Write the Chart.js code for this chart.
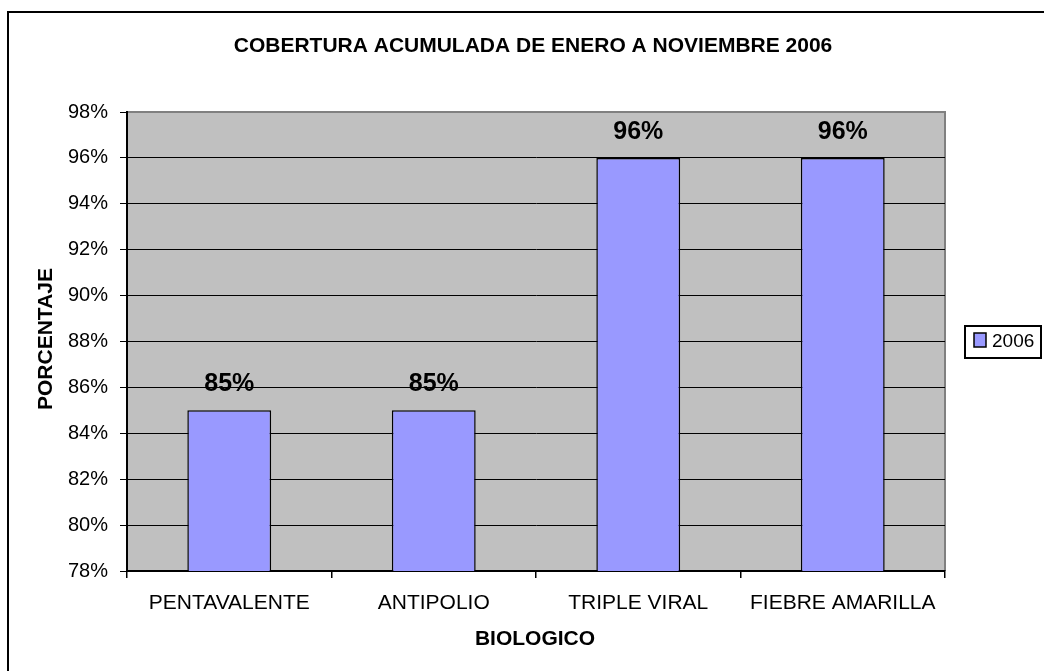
<!DOCTYPE html>
<html>
<head>
<meta charset="utf-8">
<script src="https://cdn.jsdelivr.net/npm/chart.js@4"></script>
<style>
    html, body { margin: 0; padding: 0; background: #fff; }
    #wrap { width: 1044px; height: 671px; }
</style>
</head>
<body>
<div id="wrap"><canvas id="coberturaChart" width="1044" height="671"></canvas></div>
<script>
// ============================================
// Data
// ============================================
const categories = ['PENTAVALENTE', 'ANTIPOLIO', 'TRIPLE VIRAL', 'FIEBRE AMARILLA'];
const values2006 = [85, 85, 96, 96];
const seriesLabel = '2006';
const yMin = 78;
const yMax = 98;
const yStep = 2;

const chartTitle = 'COBERTURA ACUMULADA DE ENERO A NOVIEMBRE 2006';
const yTitle = 'PORCENTAJE';
const xTitle = 'BIOLOGICO';

const FONT = '"Liberation Sans", Arial, sans-serif';
const BAR_COLOR = '#9999FF';

// ============================================
// Plugin: frame, plot background, texts, legend
// ============================================
const decorPlugin = {
    id: 'decor',
    beforeDraw(chart) {
        const ctx = chart.ctx;
        const a = chart.chartArea;
        ctx.save();
        // outer frame (right / bottom run off the picture)
        ctx.strokeStyle = '#000';
        ctx.lineWidth = 2;
        ctx.strokeRect(8, 12, 2000, 2000);
        // plot background
        ctx.fillStyle = '#C0C0C0';
        ctx.fillRect(a.left, a.top, a.right - a.left, a.bottom - a.top);
        ctx.strokeStyle = '#808080';
        ctx.lineWidth = 2;
        ctx.beginPath();
        ctx.moveTo(a.left, a.top);
        ctx.lineTo(a.right, a.top);
        ctx.lineTo(a.right, a.bottom);
        ctx.stroke();
        ctx.restore();
    },
    afterDraw(chart) {
        const ctx = chart.ctx;
        ctx.save();
        ctx.fillStyle = '#000';
        ctx.textAlign = 'center';
        ctx.textBaseline = 'middle';

        // title
        ctx.font = 'bold 21px ' + FONT;
        ctx.fillText(chartTitle, 533, 46);

        // axis titles
        ctx.font = 'bold 21px ' + FONT;
        ctx.fillText(xTitle, 535, 639);
        ctx.save();
        ctx.translate(46, 339);
        ctx.rotate(-Math.PI / 2);
        ctx.fillText(yTitle, 0, 0);
        ctx.restore();

        // value labels above bars
        ctx.font = 'bold 25px ' + FONT;
        const meta = chart.getDatasetMeta(0);
        meta.data.forEach((bar, i) => {
            ctx.fillText(values2006[i] + '%', bar.x, bar.y - 26);
        });

        // legend
        ctx.strokeStyle = '#000';
        ctx.lineWidth = 2;
        ctx.strokeRect(965, 326, 76, 32);
        ctx.fillStyle = BAR_COLOR;
        ctx.fillRect(974, 333, 12, 14);
        ctx.lineWidth = 1.5;
        ctx.strokeRect(974, 333, 12, 14);
        ctx.fillStyle = '#000';
        ctx.textAlign = 'left';
        ctx.font = '19px ' + FONT;
        ctx.fillText(chart.data.datasets[0].label, 992, 342);
        ctx.restore();
    }
};

// ============================================
// Chart
// ============================================
const ctx = document.getElementById('coberturaChart').getContext('2d');
new Chart(ctx, {
    type: 'bar',
    data: {
        labels: categories,
        datasets: [{
            label: seriesLabel,
            data: values2006,
            backgroundColor: BAR_COLOR,
            borderColor: '#000',
            borderWidth: 1.5,
            categoryPercentage: 1,
            barPercentage: 0.41
        }]
    },
    options: {
        responsive: false,
        animation: false,
        layout: {
            padding: { left: 0, top: 112, right: 99, bottom: 0 }
        },
        plugins: {
            legend: { display: false },
            title: { display: false },
            tooltip: { enabled: false }
        },
        scales: {
            x: {
                grid: {
                    drawOnChartArea: false,
                    drawTicks: true,
                    tickLength: 7,
                    color: '#000',
                    lineWidth: 1.5
                },
                border: { display: true, color: '#000', width: 2 },
                ticks: {
                    color: '#000',
                    font: { family: FONT, size: 21 },
                    padding: 13,
                    maxRotation: 0
                },
                afterFit(scale) { scale.height = 100; }
            },
            y: {
                min: yMin,
                max: yMax,
                grid: {
                    color: c => (c.tick && c.tick.value === yMax) ? '#808080' : '#000',
                    tickColor: '#000',
                    lineWidth: 1,
                    tickLength: 7
                },
                border: { display: true, color: '#000', width: 2 },
                ticks: {
                    stepSize: yStep,
                    color: '#000',
                    font: { family: FONT, size: 20 },
                    padding: 12,
                    callback: v => v + '%'
                },
                afterFit(scale) { scale.width = 127; }
            }
        }
    },
    plugins: [decorPlugin]
});
</script>
</body>
</html>
